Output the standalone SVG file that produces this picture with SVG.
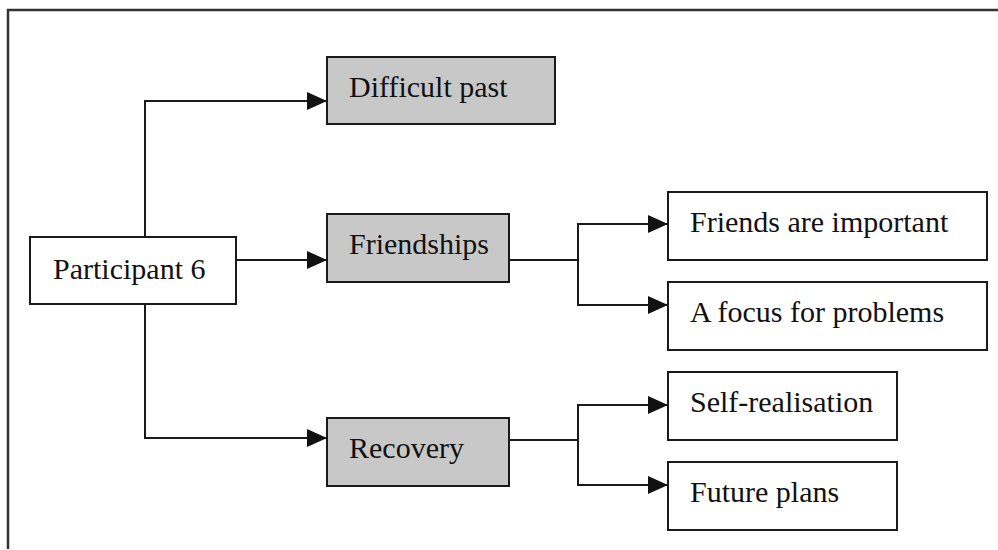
<svg xmlns="http://www.w3.org/2000/svg" width="998" height="550" viewBox="0 0 998 550">
<style>
.box{stroke:#1a1a1a;stroke-width:2}
.w{fill:#fff}
.g{fill:#c8c8c8}
.t{font-family:"Liberation Serif","Times New Roman",serif;font-size:30px;fill:#111}
.c{fill:none;stroke:#1a1a1a;stroke-width:2}
</style>
<defs>
<marker id="ah" markerWidth="20" markerHeight="18" refX="19" refY="9" orient="auto" markerUnits="userSpaceOnUse">
<path d="M0,0 L20,9 L0,18 Z" fill="#111"/>
</marker>
</defs>
<rect width="998" height="550" fill="#fff"/>
<path d="M8,549 L8,10 L998,10" fill="none" stroke="#333" stroke-width="2.5"/>
<g id="connectors">
<path class="c" d="M145,237 L145,101 L326,101" marker-end="url(#ah)"/>
<path class="c" d="M236,260 L326,260" marker-end="url(#ah)"/>
<path class="c" d="M145,304 L145,438 L326,438" marker-end="url(#ah)"/>
<path class="c" d="M509,260 L578,260"/>
<path class="c" d="M578,260 L578,224 L667,224" marker-end="url(#ah)"/>
<path class="c" d="M578,260 L578,305 L667,305" marker-end="url(#ah)"/>
<path class="c" d="M509,440 L578,440"/>
<path class="c" d="M578,440 L578,405 L667,405" marker-end="url(#ah)"/>
<path class="c" d="M578,440 L578,485 L667,485" marker-end="url(#ah)"/>
</g>
<g id="participant6"><rect class="box w" x="30" y="237" width="206" height="67"/><text class="t" x="53" y="279">Participant 6</text></g>
<g id="difficult-past"><rect class="box g" x="327" y="57" width="228" height="67"/><text class="t" x="349" y="97">Difficult past</text></g>
<g id="friendships"><rect class="box g" x="327" y="214" width="182" height="68"/><text class="t" x="349" y="254">Friendships</text></g>
<g id="recovery"><rect class="box g" x="327" y="418" width="182" height="68"/><text class="t" x="349" y="458">Recovery</text></g>
<g id="friends-important"><rect class="box w" x="668" y="192" width="319" height="68"/><text class="t" x="690" y="232">Friends are important</text></g>
<g id="focus-problems"><rect class="box w" x="668" y="282" width="319" height="68"/><text class="t" x="690" y="322">A focus for problems</text></g>
<g id="self-realisation"><rect class="box w" x="668" y="372" width="229" height="68"/><text class="t" x="690" y="412">Self-realisation</text></g>
<g id="future-plans"><rect class="box w" x="668" y="462" width="229" height="68"/><text class="t" x="690" y="502">Future plans</text></g>
</svg>
